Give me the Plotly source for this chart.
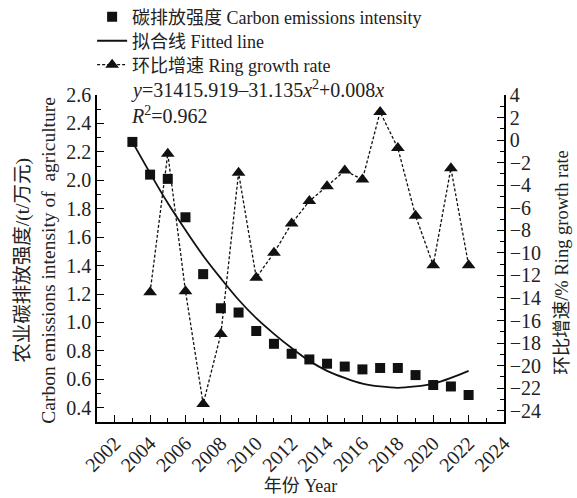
import plotly.graph_objects as go

years = list(range(2003, 2023))
intensity = [2.27, 2.04, 2.01, 1.74, 1.34, 1.10, 1.07, 0.94, 0.85, 0.78,
             0.74, 0.71, 0.69, 0.67, 0.68, 0.68, 0.63, 0.56, 0.55, 0.49]
fitted = [2.27, 2.05, 1.84, 1.65, 1.47, 1.31, 1.16, 1.03, 0.92, 0.82,
          0.73, 0.66, 0.61, 0.57, 0.55, 0.54, 0.55, 0.57, 0.61, 0.66]
growth_years = list(range(2004, 2023))
growth = [-13.5, -1.2, -13.4, -23.4, -17.2, -2.9, -12.2, -10.0, -7.4, -5.4,
          -4.1, -2.7, -3.5, 2.5, -0.7, -6.7, -11.1, -2.5, -11.1]

SERIF = "'Liberation Serif', 'Noto Sans CJK SC', serif"

fig = go.Figure()
fig.add_trace(go.Scatter(
    x=years, y=intensity, mode="markers", legend="legend",
    name="碳排放强度 Carbon emissions intensity",
    marker=dict(symbol="square", size=10, color="#111")))
fig.add_trace(go.Scatter(
    x=years, y=fitted, mode="lines", line_shape="spline", legend="legend2",
    name="拟合线 Fitted line",
    line=dict(color="#111", width=1.8)))
fig.add_trace(go.Scatter(
    x=growth_years, y=growth, mode="lines+markers", yaxis="y2", legend="legend3",
    name="环比增速 Ring growth rate",
    line=dict(color="#111", width=1.3, dash="3px,2px"),
    marker=dict(symbol="triangle-up", size=12, color="#111")))

axis_common = dict(showline=True, linecolor="black", linewidth=1.5,
                   ticks="inside", tickcolor="black", tickwidth=1.3, ticklen=7,
                   showgrid=False, zeroline=False,
                   tickfont=dict(family=SERIF, size=20, color="#222"))

leg = dict(x=-0.012, xanchor="left", yanchor="middle",
           bgcolor="rgba(0,0,0,0)", font=dict(family=SERIF, size=18, color="#222"),
           itemwidth=30)

fig.update_layout(
    width=577, height=498,
    margin=dict(l=97, r=73, t=95, b=76, autoexpand=False),
    plot_bgcolor="white", paper_bgcolor="white",
    font=dict(family=SERIF, size=18, color="#222"),
    xaxis=dict(range=[2001, 2024], tick0=2002, dtick=2, tickangle=-45,
               minor=dict(dtick=1, ticks="inside", ticklen=4, tickcolor="black"),
               title=dict(text="年份 Year", font=dict(family=SERIF, size=18), standoff=2),
               **axis_common),
    yaxis=dict(range=[0.3, 2.6], tick0=0.4, dtick=0.2, tickformat=".1f",
               minor=dict(dtick=0.1, ticks="inside", ticklen=4, tickcolor="black"),
               **axis_common),
    yaxis2=dict(range=[-25, 4], tick0=-24, dtick=2, overlaying="y", side="right",
                minor=dict(dtick=1, ticks="inside", ticklen=4, tickcolor="black"),
                **axis_common),
    legend=dict(y=1.2385, **leg),
    legend2=dict(y=1.165, **leg),
    legend3=dict(y=1.0917, **leg),
    showlegend=True,
)

# axis titles
fig.add_annotation(xref="paper", yref="paper", x=-0.151, y=0.495, xanchor="center", yanchor="middle",
                   textangle=-90, showarrow=False,
                   text="农业碳排放强度/(t/万元)<br>Carbon emissions intensity of  agriculture",
                   font=dict(family=SERIF, size=19.5, color="#222"))
fig.add_annotation(xref="paper", yref="paper", x=1.1425, y=0.49, xanchor="center", yanchor="middle",
                   textangle=-90, showarrow=False,
                   text="环比增速/% Ring growth rate",
                   font=dict(family=SERIF, size=18.5, color="#222"))

fig.add_annotation(xref="paper", yref="paper", x=0.078, y=1.018, xanchor="left", yanchor="middle",
                   text="<i>y</i>=31415.919–31.135<i>x</i><sup>2</sup>+0.008<i>x</i>",
                   showarrow=False, font=dict(family=SERIF, size=20, color="#222"))
fig.add_annotation(xref="paper", yref="paper", x=0.078, y=0.94, xanchor="left", yanchor="middle",
                   text="<i>R</i><sup>2</sup>=0.962",
                   showarrow=False, font=dict(family=SERIF, size=20, color="#222"))

fig.write_html("out.html")
